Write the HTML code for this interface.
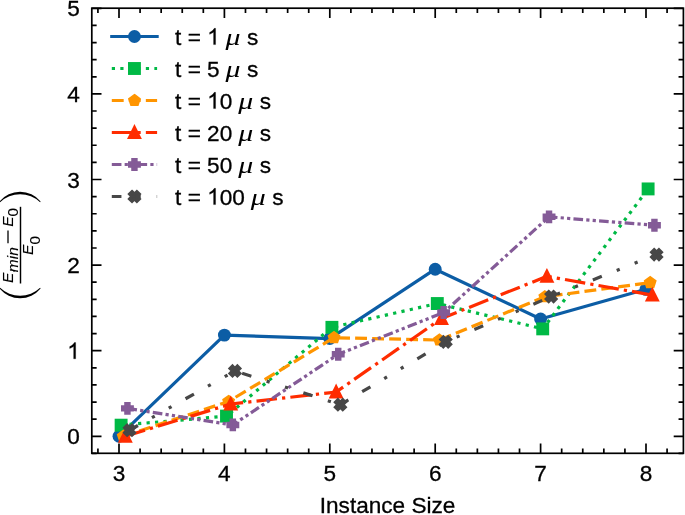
<!DOCTYPE html>
<html><head><meta charset="utf-8"><title>chart</title>
<style>html,body{margin:0;padding:0;background:#fff;}svg{display:block;will-change:transform;}text{font-family:"Liberation Sans",sans-serif;fill:#000;stroke:#000;stroke-width:0.3px;}.yl text{stroke-width:0.1px;}</style></head><body>
<svg width="685" height="515" viewBox="0 0 685 515">
<rect width="685" height="515" fill="#fff"/>
<g fill="none" stroke-linejoin="round">
<polyline points="119.00,436.30 224.40,335.12 329.80,338.54 435.20,269.21 540.60,318.94 646.00,289.32" fill="none" stroke="#0C5DA5" stroke-width="3.21"/>
<circle cx="119.00" cy="436.30" r="6.45" fill="#0C5DA5"/>
<circle cx="224.40" cy="335.12" r="6.45" fill="#0C5DA5"/>
<circle cx="329.80" cy="338.54" r="6.45" fill="#0C5DA5"/>
<circle cx="435.20" cy="269.21" r="6.45" fill="#0C5DA5"/>
<circle cx="540.60" cy="318.94" r="6.45" fill="#0C5DA5"/>
<circle cx="646.00" cy="289.32" r="6.45" fill="#0C5DA5"/>
<polyline points="121.11,425.17 226.51,416.10 331.91,327.33 437.31,303.53 542.71,328.87 648.11,188.92" fill="none" stroke="#00B945" stroke-width="3.21" stroke-dasharray="3.21,5.30"/>
<rect x="114.66" y="418.72" width="12.90" height="12.90" fill="#00B945"/>
<rect x="220.06" y="409.65" width="12.90" height="12.90" fill="#00B945"/>
<rect x="325.46" y="320.88" width="12.90" height="12.90" fill="#00B945"/>
<rect x="430.86" y="297.08" width="12.90" height="12.90" fill="#00B945"/>
<rect x="536.26" y="322.42" width="12.90" height="12.90" fill="#00B945"/>
<rect x="641.66" y="182.47" width="12.90" height="12.90" fill="#00B945"/>
<polyline points="123.22,436.30 228.62,401.46 334.02,337.69 439.42,340.09 544.82,296.77 650.22,282.65" fill="none" stroke="#FF9500" stroke-width="3.21" stroke-dasharray="11.88,5.14"/>
<polygon points="123.22,431.45 127.82,434.80 126.06,440.22 120.37,440.22 118.61,434.80" fill="#FF9500" stroke="#FF9500" stroke-width="3.21" stroke-linejoin="miter"/>
<polygon points="228.62,396.62 233.22,399.96 231.46,405.38 225.77,405.38 224.01,399.96" fill="#FF9500" stroke="#FF9500" stroke-width="3.21" stroke-linejoin="miter"/>
<polygon points="334.02,332.84 338.62,336.19 336.86,341.61 331.17,341.61 329.41,336.19" fill="#FF9500" stroke="#FF9500" stroke-width="3.21" stroke-linejoin="miter"/>
<polygon points="439.42,335.24 444.02,338.59 442.26,344.01 436.57,344.01 434.81,338.59" fill="#FF9500" stroke="#FF9500" stroke-width="3.21" stroke-linejoin="miter"/>
<polygon points="544.82,291.93 549.42,295.27 547.66,300.69 541.97,300.69 540.21,295.27" fill="#FF9500" stroke="#FF9500" stroke-width="3.21" stroke-linejoin="miter"/>
<polygon points="650.22,277.80 654.82,281.15 653.06,286.57 647.37,286.57 645.61,281.15" fill="#FF9500" stroke="#FF9500" stroke-width="3.21" stroke-linejoin="miter"/>
<polyline points="125.32,436.30 230.72,404.03 336.12,392.04 441.52,318.51 546.92,276.31 652.32,295.06" fill="none" stroke="#FF2C00" stroke-width="3.21" stroke-dasharray="20.56,5.14,3.21,5.14"/>
<polygon points="125.32,431.45 120.48,441.15 130.17,441.15" fill="#FF2C00" stroke="#FF2C00" stroke-width="3.21" stroke-linejoin="miter"/>
<polygon points="230.72,399.18 225.88,408.87 235.57,408.87" fill="#FF2C00" stroke="#FF2C00" stroke-width="3.21" stroke-linejoin="miter"/>
<polygon points="336.12,387.20 331.28,396.89 340.97,396.89" fill="#FF2C00" stroke="#FF2C00" stroke-width="3.21" stroke-linejoin="miter"/>
<polygon points="441.52,313.67 436.68,323.36 446.37,323.36" fill="#FF2C00" stroke="#FF2C00" stroke-width="3.21" stroke-linejoin="miter"/>
<polygon points="546.92,271.47 542.08,281.16 551.77,281.16" fill="#FF2C00" stroke="#FF2C00" stroke-width="3.21" stroke-linejoin="miter"/>
<polygon points="652.32,290.22 647.48,299.91 657.17,299.91" fill="#FF2C00" stroke="#FF2C00" stroke-width="3.21" stroke-linejoin="miter"/>
<polyline points="127.43,408.39 232.83,424.92 338.23,354.30 443.63,312.52 549.03,216.82 654.43,225.30" fill="none" stroke="#845B97" stroke-width="3.21" stroke-dasharray="9.64,3.21,3.21,3.21,3.21,3.21"/>
<polygon points="125.82,403.55 129.05,403.55 129.05,406.78 132.28,406.78 132.28,410.01 129.05,410.01 129.05,413.24 125.82,413.24 125.82,410.01 122.59,410.01 122.59,406.78 125.82,406.78" fill="#845B97" stroke="#845B97" stroke-width="3.21" stroke-linejoin="miter"/>
<polygon points="231.22,420.07 234.45,420.07 234.45,423.30 237.68,423.30 237.68,426.53 234.45,426.53 234.45,429.76 231.22,429.76 231.22,426.53 227.99,426.53 227.99,423.30 231.22,423.30" fill="#845B97" stroke="#845B97" stroke-width="3.21" stroke-linejoin="miter"/>
<polygon points="336.62,349.45 339.85,349.45 339.85,352.68 343.08,352.68 343.08,355.91 339.85,355.91 339.85,359.14 336.62,359.14 336.62,355.91 333.39,355.91 333.39,352.68 336.62,352.68" fill="#845B97" stroke="#845B97" stroke-width="3.21" stroke-linejoin="miter"/>
<polygon points="442.02,307.68 445.25,307.68 445.25,310.91 448.48,310.91 448.48,314.14 445.25,314.14 445.25,317.37 442.02,317.37 442.02,314.14 438.79,314.14 438.79,310.91 442.02,310.91" fill="#845B97" stroke="#845B97" stroke-width="3.21" stroke-linejoin="miter"/>
<polygon points="547.42,211.98 550.65,211.98 550.65,215.21 553.88,215.21 553.88,218.44 550.65,218.44 550.65,221.67 547.42,221.67 547.42,218.44 544.19,218.44 544.19,215.21 547.42,215.21" fill="#845B97" stroke="#845B97" stroke-width="3.21" stroke-linejoin="miter"/>
<polygon points="652.82,220.45 656.05,220.45 656.05,223.68 659.28,223.68 659.28,226.91 656.05,226.91 656.05,230.14 652.82,230.14 652.82,226.91 649.59,226.91 649.59,223.68 652.82,223.68" fill="#845B97" stroke="#845B97" stroke-width="3.21" stroke-linejoin="miter"/>
<polyline points="129.54,430.22 234.94,370.99 340.34,404.71 445.74,341.80 551.14,296.52 656.54,254.57" fill="none" stroke="#474747" stroke-width="3.21" stroke-dasharray="9.64,16.06,3.21,16.06,3.21,16.06"/>
<polygon points="127.12,425.38 129.54,427.80 131.96,425.38 134.39,427.80 131.96,430.22 134.39,432.64 131.96,435.07 129.54,432.64 127.12,435.07 124.70,432.64 127.12,430.22 124.70,427.80" fill="#474747" stroke="#474747" stroke-width="3.21" stroke-linejoin="miter"/>
<polygon points="232.52,366.14 234.94,368.56 237.36,366.14 239.78,368.56 237.36,370.99 239.78,373.41 237.36,375.83 234.94,373.41 232.52,375.83 230.09,373.41 232.52,370.99 230.09,368.56" fill="#474747" stroke="#474747" stroke-width="3.21" stroke-linejoin="miter"/>
<polygon points="337.92,399.87 340.34,402.29 342.76,399.87 345.19,402.29 342.76,404.71 345.19,407.14 342.76,409.56 340.34,407.14 337.92,409.56 335.49,407.14 337.92,404.71 335.49,402.29" fill="#474747" stroke="#474747" stroke-width="3.21" stroke-linejoin="miter"/>
<polygon points="443.32,336.95 445.74,339.38 448.16,336.95 450.58,339.38 448.16,341.80 450.58,344.22 448.16,346.64 445.74,344.22 443.32,346.64 440.89,344.22 443.32,341.80 440.89,339.38" fill="#474747" stroke="#474747" stroke-width="3.21" stroke-linejoin="miter"/>
<polygon points="548.72,291.67 551.14,294.09 553.56,291.67 555.99,294.09 553.56,296.52 555.99,298.94 553.56,301.36 551.14,298.94 548.72,301.36 546.29,298.94 548.72,296.52 546.29,294.09" fill="#474747" stroke="#474747" stroke-width="3.21" stroke-linejoin="miter"/>
<polygon points="654.12,249.73 656.54,252.15 658.96,249.73 661.38,252.15 658.96,254.57 661.38,256.99 658.96,259.42 656.54,256.99 654.12,259.42 651.69,256.99 654.12,254.57 651.69,252.15" fill="#474747" stroke="#474747" stroke-width="3.21" stroke-linejoin="miter"/>
</g>
<path d="M119.00,453.30V443.60M119.00,8.20V17.90M224.40,453.30V443.60M224.40,8.20V17.90M329.80,453.30V443.60M329.80,8.20V17.90M435.20,453.30V443.60M435.20,8.20V17.90M540.60,453.30V443.60M540.60,8.20V17.90M646.00,453.30V443.60M646.00,8.20V17.90M97.92,453.30V448.45M97.92,8.20V13.05M140.08,453.30V448.45M140.08,8.20V13.05M161.16,453.30V448.45M161.16,8.20V13.05M182.24,453.30V448.45M182.24,8.20V13.05M203.32,453.30V448.45M203.32,8.20V13.05M245.48,453.30V448.45M245.48,8.20V13.05M266.56,453.30V448.45M266.56,8.20V13.05M287.64,453.30V448.45M287.64,8.20V13.05M308.72,453.30V448.45M308.72,8.20V13.05M350.88,453.30V448.45M350.88,8.20V13.05M371.96,453.30V448.45M371.96,8.20V13.05M393.04,453.30V448.45M393.04,8.20V13.05M414.12,453.30V448.45M414.12,8.20V13.05M456.28,453.30V448.45M456.28,8.20V13.05M477.36,453.30V448.45M477.36,8.20V13.05M498.44,453.30V448.45M498.44,8.20V13.05M519.52,453.30V448.45M519.52,8.20V13.05M561.68,453.30V448.45M561.68,8.20V13.05M582.76,453.30V448.45M582.76,8.20V13.05M603.84,453.30V448.45M603.84,8.20V13.05M624.92,453.30V448.45M624.92,8.20V13.05M667.08,453.30V448.45M667.08,8.20V13.05M91.80,436.30H101.50M683.40,436.30H673.70M91.80,350.70H101.50M683.40,350.70H673.70M91.80,265.10H101.50M683.40,265.10H673.70M91.80,179.50H101.50M683.40,179.50H673.70M91.80,93.90H101.50M683.40,93.90H673.70M91.80,8.30H101.50M683.40,8.30H673.70M91.80,453.42H96.65M683.40,453.42H678.55M91.80,419.18H96.65M683.40,419.18H678.55M91.80,402.06H96.65M683.40,402.06H678.55M91.80,384.94H96.65M683.40,384.94H678.55M91.80,367.82H96.65M683.40,367.82H678.55M91.80,333.58H96.65M683.40,333.58H678.55M91.80,316.46H96.65M683.40,316.46H678.55M91.80,299.34H96.65M683.40,299.34H678.55M91.80,282.22H96.65M683.40,282.22H678.55M91.80,247.98H96.65M683.40,247.98H678.55M91.80,230.86H96.65M683.40,230.86H678.55M91.80,213.74H96.65M683.40,213.74H678.55M91.80,196.62H96.65M683.40,196.62H678.55M91.80,162.38H96.65M683.40,162.38H678.55M91.80,145.26H96.65M683.40,145.26H678.55M91.80,128.14H96.65M683.40,128.14H678.55M91.80,111.02H96.65M683.40,111.02H678.55M91.80,76.78H96.65M683.40,76.78H678.55M91.80,59.66H96.65M683.40,59.66H678.55M91.80,42.54H96.65M683.40,42.54H678.55M91.80,25.42H96.65M683.40,25.42H678.55" stroke="#000" stroke-width="1.70" fill="none"/>
<rect x="91.80" y="8.20" width="591.60" height="445.10" fill="none" stroke="#000" stroke-width="1.70"/>
<text x="119.00" y="480.7" font-size="22.6" text-anchor="middle">3</text>
<text x="224.40" y="480.7" font-size="22.6" text-anchor="middle">4</text>
<text x="329.80" y="480.7" font-size="22.6" text-anchor="middle">5</text>
<text x="435.20" y="480.7" font-size="22.6" text-anchor="middle">6</text>
<text x="540.60" y="480.7" font-size="22.6" text-anchor="middle">7</text>
<text x="646.00" y="480.7" font-size="22.6" text-anchor="middle">8</text>
<text x="79.8" y="444.40" font-size="22.6" text-anchor="end">0</text>
<path d="M763,0H583V1147Q518,1085 412,1023T223,930V1104Q374,1175 487,1276T647,1472H763Z" transform="translate(67.23,358.80) scale(0.01104,-0.01104)" fill="#000" stroke="#000" stroke-width="27.2"/>
<text x="79.8" y="273.20" font-size="22.6" text-anchor="end">2</text>
<text x="79.8" y="187.60" font-size="22.6" text-anchor="end">3</text>
<text x="79.8" y="102.00" font-size="22.6" text-anchor="end">4</text>
<text x="79.8" y="16.40" font-size="22.6" text-anchor="end">5</text>
<text x="387.6" y="513.2" font-size="22.6" text-anchor="middle">Instance Size</text>
<path d="M110.19,36.50H158.71" stroke="#0C5DA5" stroke-width="3.21" fill="none"/>
<circle cx="134.45" cy="36.50" r="6.45" fill="#0C5DA5"/>
<path d="M763,0H583V1147Q518,1085 412,1023T223,930V1104Q374,1175 487,1276T647,1472H763Z" transform="translate(207.15,44.60) scale(0.01104,-0.01104)" fill="#000" stroke="#000" stroke-width="27.2"/>
<text x="175.1" y="44.60" font-size="22.6" xml:space="preserve">t =</text>
<text x="225.60" y="44.60" font-size="22.6" font-family="Liberation Serif" font-style="italic" textLength="15.0" lengthAdjust="spacingAndGlyphs" style="font-family:'Liberation Serif',serif;stroke:none">μ</text>
<text x="247.10" y="44.60" font-size="22.6">s</text>
<path d="M111.80,68.50H157.10" stroke="#00B945" stroke-width="3.21" fill="none" stroke-dasharray="3.21,5.30"/>
<rect x="128.00" y="62.05" width="12.90" height="12.90" fill="#00B945"/>
<text x="175.1" y="76.60" font-size="22.6" xml:space="preserve">t = 5</text>
<text x="225.60" y="76.60" font-size="22.6" font-family="Liberation Serif" font-style="italic" textLength="15.0" lengthAdjust="spacingAndGlyphs" style="font-family:'Liberation Serif',serif;stroke:none">μ</text>
<text x="247.10" y="76.60" font-size="22.6">s</text>
<path d="M111.80,100.50H157.10" stroke="#FF9500" stroke-width="3.21" fill="none" stroke-dasharray="11.88,5.14"/>
<polygon points="134.45,95.66 139.06,99.00 137.30,104.42 131.60,104.42 129.84,99.00" fill="#FF9500" stroke="#FF9500" stroke-width="3.21" stroke-linejoin="miter"/>
<path d="M763,0H583V1147Q518,1085 412,1023T223,930V1104Q374,1175 487,1276T647,1472H763Z" transform="translate(207.15,108.60) scale(0.01104,-0.01104)" fill="#000" stroke="#000" stroke-width="27.2"/>
<text x="219.71" y="108.60" font-size="22.6">0</text>
<text x="175.1" y="108.60" font-size="22.6" xml:space="preserve">t =</text>
<text x="238.17" y="108.60" font-size="22.6" font-family="Liberation Serif" font-style="italic" textLength="15.0" lengthAdjust="spacingAndGlyphs" style="font-family:'Liberation Serif',serif;stroke:none">μ</text>
<text x="259.67" y="108.60" font-size="22.6">s</text>
<path d="M111.80,132.50H157.10" stroke="#FF2C00" stroke-width="3.21" fill="none" stroke-dasharray="20.56,5.14,3.21,5.14"/>
<polygon points="134.45,127.66 129.60,137.34 139.29,137.34" fill="#FF2C00" stroke="#FF2C00" stroke-width="3.21" stroke-linejoin="miter"/>
<text x="175.1" y="140.60" font-size="22.6" xml:space="preserve">t = 20</text>
<text x="238.17" y="140.60" font-size="22.6" font-family="Liberation Serif" font-style="italic" textLength="15.0" lengthAdjust="spacingAndGlyphs" style="font-family:'Liberation Serif',serif;stroke:none">μ</text>
<text x="259.67" y="140.60" font-size="22.6">s</text>
<path d="M111.80,164.50H157.10" stroke="#845B97" stroke-width="3.21" fill="none" stroke-dasharray="9.64,3.21,3.21,3.21,3.21,3.21"/>
<polygon points="132.83,159.66 136.06,159.66 136.06,162.88 139.29,162.88 139.29,166.12 136.06,166.12 136.06,169.34 132.83,169.34 132.83,166.12 129.60,166.12 129.60,162.88 132.83,162.88" fill="#845B97" stroke="#845B97" stroke-width="3.21" stroke-linejoin="miter"/>
<text x="175.1" y="172.60" font-size="22.6" xml:space="preserve">t = 50</text>
<text x="238.17" y="172.60" font-size="22.6" font-family="Liberation Serif" font-style="italic" textLength="15.0" lengthAdjust="spacingAndGlyphs" style="font-family:'Liberation Serif',serif;stroke:none">μ</text>
<text x="259.67" y="172.60" font-size="22.6">s</text>
<path d="M111.80,196.50H157.10" stroke="#474747" stroke-width="3.21" fill="none" stroke-dasharray="9.64,16.06,3.21,16.06,3.21,16.06"/>
<polygon points="132.03,191.66 134.45,194.08 136.87,191.66 139.29,194.08 136.87,196.50 139.29,198.92 136.87,201.34 134.45,198.92 132.03,201.34 129.60,198.92 132.03,196.50 129.60,194.08" fill="#474747" stroke="#474747" stroke-width="3.21" stroke-linejoin="miter"/>
<path d="M763,0H583V1147Q518,1085 412,1023T223,930V1104Q374,1175 487,1276T647,1472H763Z" transform="translate(207.15,204.60) scale(0.01104,-0.01104)" fill="#000" stroke="#000" stroke-width="27.2"/>
<text x="219.71" y="204.60" font-size="22.6">00</text>
<text x="175.1" y="204.60" font-size="22.6" xml:space="preserve">t =</text>
<text x="250.73" y="204.60" font-size="22.6" font-family="Liberation Serif" font-style="italic" textLength="15.0" lengthAdjust="spacingAndGlyphs" style="font-family:'Liberation Serif',serif;stroke:none">μ</text>
<text x="272.23" y="204.60" font-size="22.6">s</text>
<g class="yl" transform="translate(0,245) rotate(-90)">
<text x="-38.00" y="12.7" font-size="15.5" font-style="italic">E</text>
<text x="-27.20" y="18.4" font-size="15.5" font-style="italic">min</text>
<path d="M1.80,8.0H14.50" stroke="#000" stroke-width="1.3"/>
<text x="18.30" y="12.7" font-size="15.5" font-style="italic">E</text>
<text x="28.40" y="18.1" font-size="15.5">0</text>
<path d="M-38.50,20.5H38.20" stroke="#000" stroke-width="1.45"/>
<text x="-9.90" y="32.8" font-size="15.5" font-style="italic">E</text>
<text x="0.50" y="39.6" font-size="15.5">0</text>
</g>
<path d="M-0.40,288.60A26.51,26.51 0 0 0 40.60,288.60L40.10,287.70A28.97,28.97 0 0 1 0.10,287.70Z" fill="#000"/>
<path d="M-0.40,201.40A26.51,26.51 0 0 1 40.60,201.40L40.10,202.30A28.97,28.97 0 0 0 0.10,202.30Z" fill="#000"/>
</svg></body></html>
